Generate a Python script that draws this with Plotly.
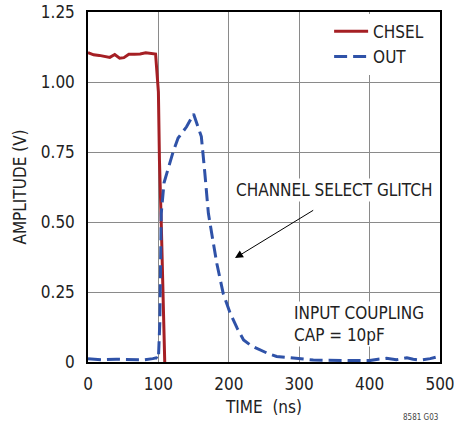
import plotly.graph_objects as go

# CHSEL trace (time ns, amplitude V)
chsel_t = [0, 8, 16, 24, 31, 38, 45, 51, 58, 66, 74, 82, 91, 96, 100, 101.5, 104, 109]
chsel_v = [1.105, 1.097, 1.095, 1.092, 1.088, 1.098, 1.085, 1.087, 1.099, 1.099, 1.1, 1.104, 1.101, 1.1, 0.965, 0.72, 0.5, 0.0]

# OUT trace
out_t = [0, 20, 40, 60, 80, 92, 97, 100, 102, 104, 108, 115, 121, 128, 140, 150, 161, 166, 171, 177, 183, 192, 202, 212, 221, 232, 244, 256, 268, 285, 301, 320, 340, 360, 380, 400, 412, 424, 438, 453, 462, 472, 486, 500]
out_v = [0.012, 0.008, 0.01, 0.01, 0.008, 0.012, 0.015, 0.01, 0.14, 0.53, 0.64, 0.7, 0.751, 0.8, 0.84, 0.886, 0.805, 0.674, 0.531, 0.44, 0.352, 0.245, 0.174, 0.12, 0.079, 0.058, 0.043, 0.03, 0.02, 0.015, 0.01, 0.007, 0.006, 0.006, 0.005, 0.005, 0.01, 0.013, 0.008, 0.015, 0.01, 0.007, 0.012, 0.021]

x_ticks = [0, 100, 200, 300, 400, 500]
x_tick_labels = ["0", "100", "200", "300", "400", "500"]
y_ticks = [0, 0.25, 0.5, 0.75, 1.0, 1.25]
y_tick_labels = ["0", "0.25", "0.50", "0.75", "1.00", "1.25"]

FONT = "DejaVu Sans Condensed, Liberation Sans Narrow, sans-serif"
TXT = "#222222"

fig = go.Figure()
fig.add_trace(go.Scatter(x=chsel_t, y=chsel_v, mode="lines", name="CHSEL",
                         line=dict(color="#a51f24", width=3)))
fig.add_trace(go.Scatter(x=out_t, y=out_v, mode="lines", name="OUT",
                         line=dict(color="#2f52a8", width=3, dash="13px,6px")))

fig.update_layout(
    width=454, height=423,
    margin=dict(l=88, r=14, t=12, b=61, autoexpand=False),
    paper_bgcolor="white", plot_bgcolor="white",
    font=dict(family=FONT, size=17, color=TXT),
    showlegend=True,
    legend=dict(x=0.685, y=0.995, xanchor="left", yanchor="top",
                bgcolor="white", borderwidth=0,
                font=dict(family=FONT, size=17, color=TXT),
                tracegroupgap=0, itemwidth=34),
    xaxis=dict(range=[0, 500], tickvals=x_ticks, ticktext=x_tick_labels,
               showgrid=True, gridcolor="#8a8a8a", gridwidth=1,
               showline=True, linecolor="black", linewidth=1.5, mirror=True,
               zeroline=False, ticks="", ticklabelstandoff=6, automargin=False,
               ticklabeloverflow="allow",
               title=dict(text="TIME  (ns)", standoff=8,
                          font=dict(family=FONT, size=17, color=TXT))),
    yaxis=dict(range=[0, 1.25], tickvals=y_ticks, ticktext=y_tick_labels,
               showgrid=True, gridcolor="#8a8a8a", gridwidth=1,
               showline=True, linecolor="black", linewidth=1.5, mirror=True,
               zeroline=False, ticks="", ticklabelstandoff=8, automargin=False,
               ticklabeloverflow="allow",
               title=dict(text="AMPLITUDE (V)", standoff=10,
                          font=dict(family=FONT, size=17, color=TXT))),
)

fig.add_annotation(x=349, y=0.614, xref="x", yref="y", text="CHANNEL SELECT GLITCH",
                   showarrow=False, bgcolor="white",
                   font=dict(family=FONT, size=17, color=TXT))
fig.add_annotation(x=208.8, y=0.371, ax=322, ay=0.545, xref="x", yref="y",
                   axref="x", ayref="y", text="", showarrow=True,
                   arrowhead=2, arrowsize=1.6, arrowwidth=1, arrowcolor="black")
fig.add_annotation(x=290, y=0.1375, xref="x", yref="y", xanchor="left", yanchor="middle",
                   text="INPUT COUPLING<br>CAP = 10pF", align="left",
                   showarrow=False, bgcolor="white",
                   font=dict(family=FONT, size=17, color=TXT))
fig.add_annotation(x=1.0, y=-0.14, xref="paper", yref="paper", xanchor="right", yanchor="top",
                   text="8581 G03", showarrow=False,
                   font=dict(family=FONT, size=8, color="#444"))

fig.write_html("out.html", config={"displayModeBar": False},
               post_script="document.body.style.margin='0';")
